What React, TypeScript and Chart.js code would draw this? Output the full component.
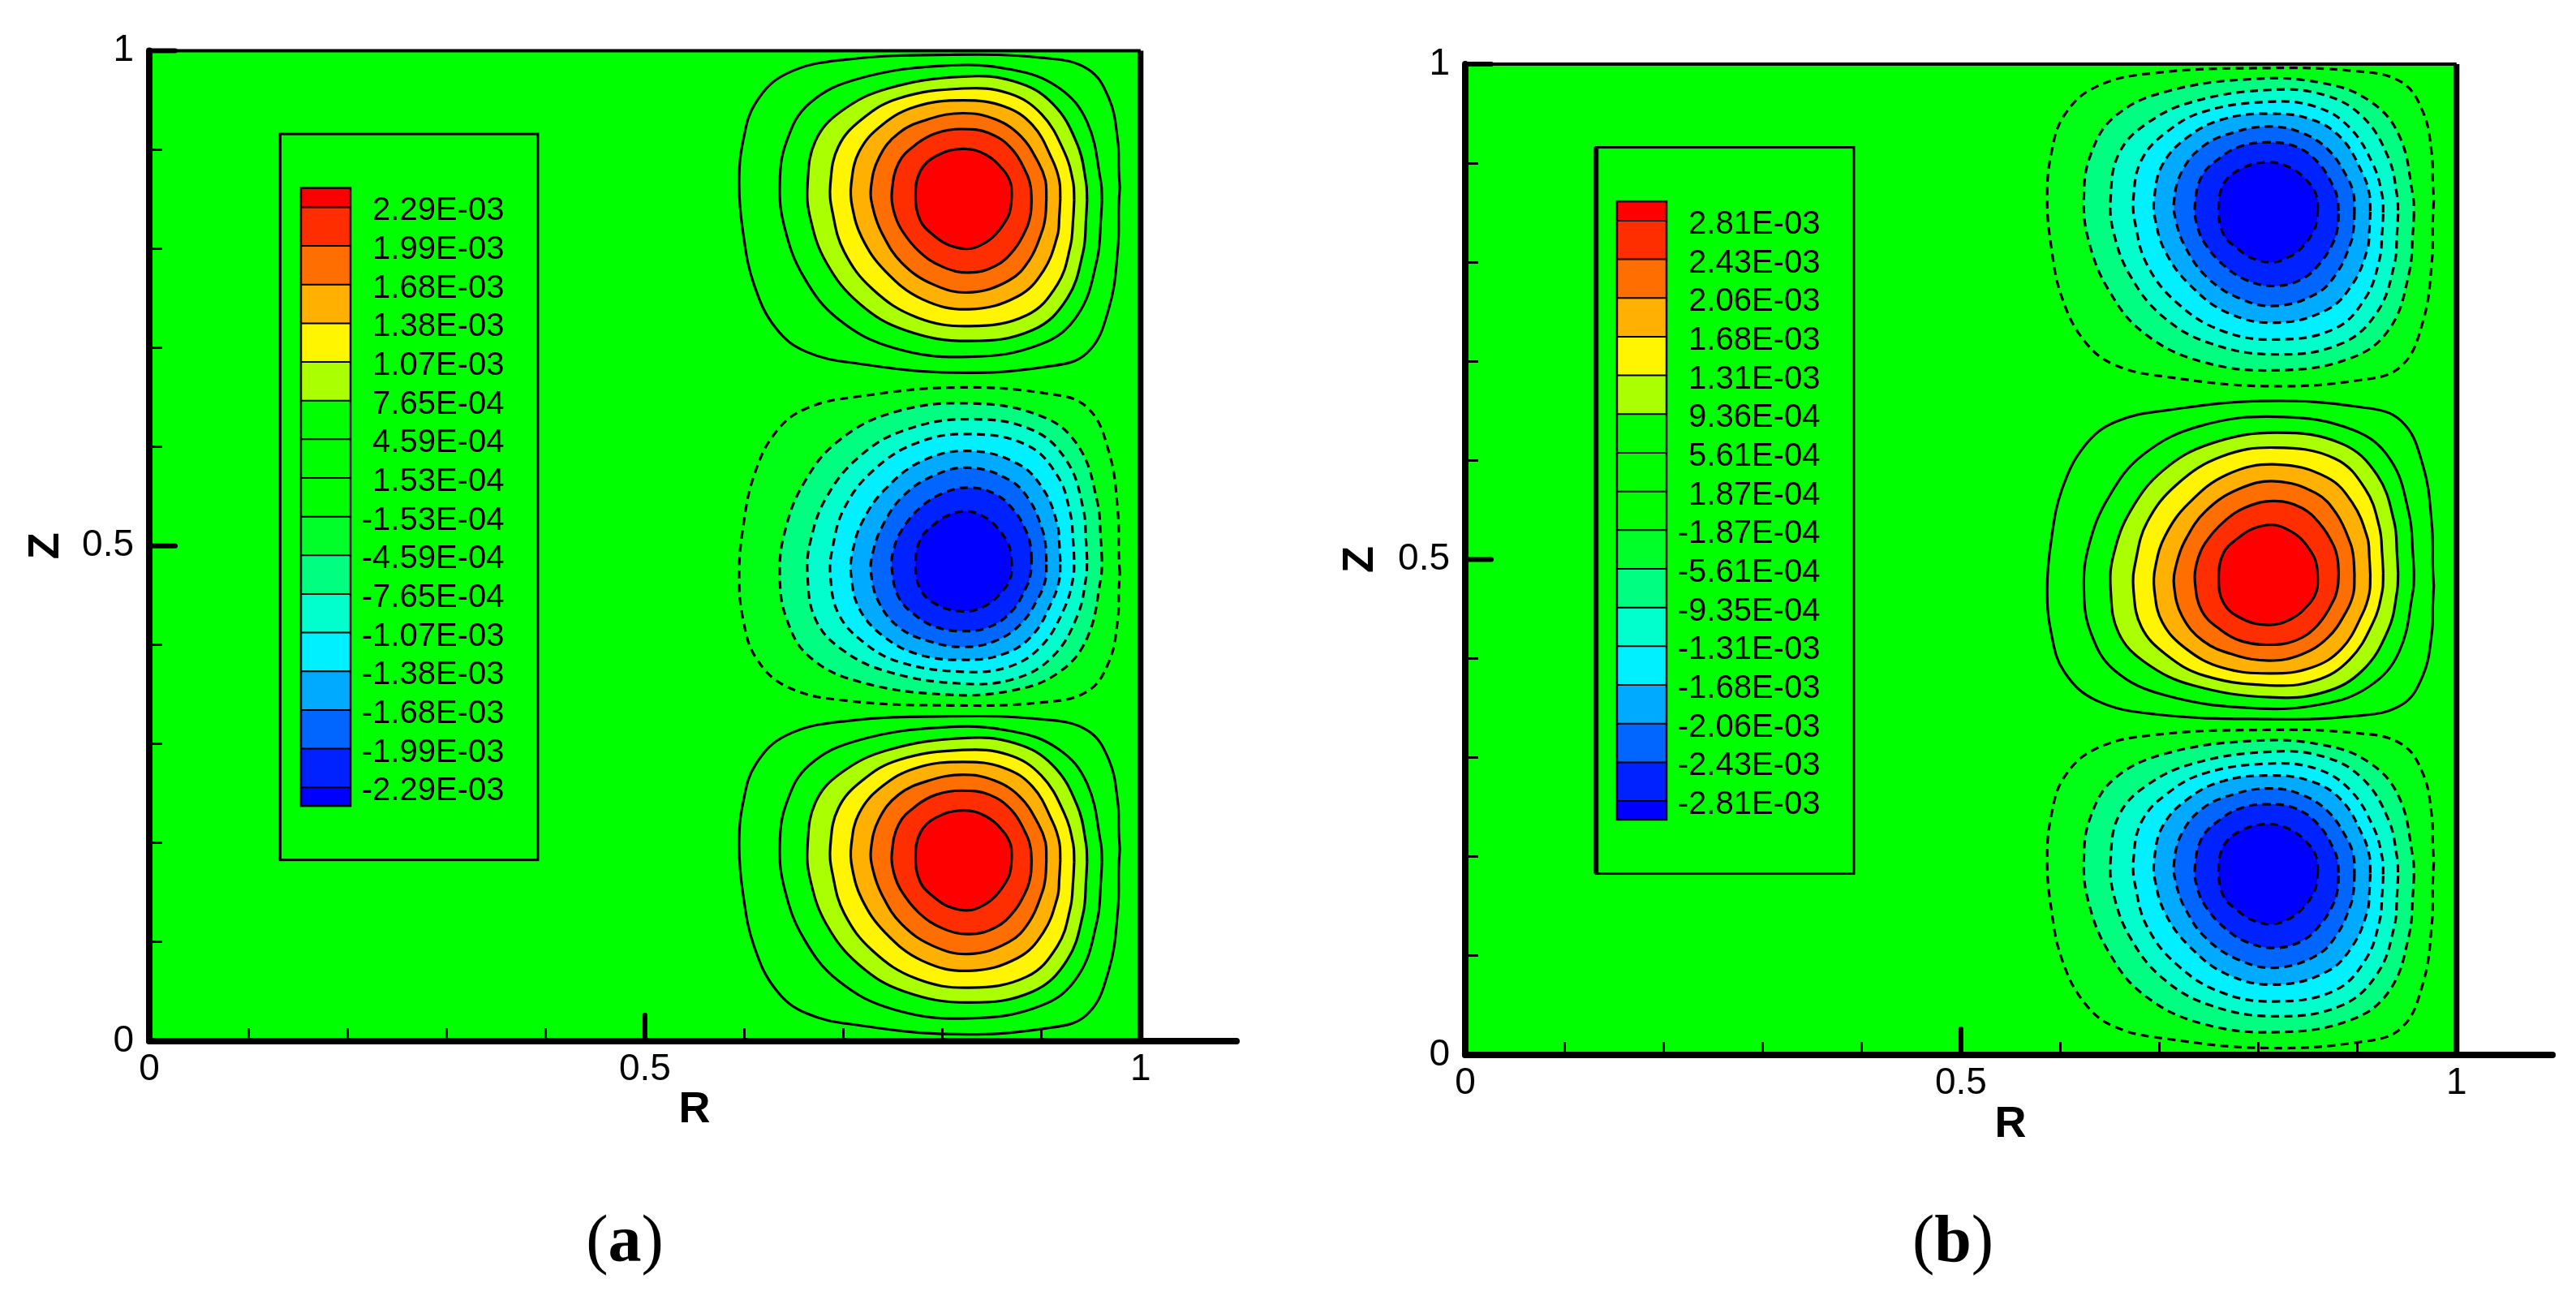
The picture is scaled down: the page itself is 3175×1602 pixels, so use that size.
import React, { useEffect, useRef } from 'react';
import { Chart, registerables } from 'chart.js';

Chart.register(...registerables);

// contour rings, outermost first; same ring order in every list
const ringRA = [
  [0.979, 0.978, 0.977, 0.968, 0.946, 0.905, 0.812, 0.716, 0.663, 0.632, 0.610, 0.599, 0.595, 0.599, 0.612, 0.643, 0.701, 0.809, 0.900, 0.946, 0.968, 0.977, 0.978],
  [0.961, 0.960, 0.956, 0.937, 0.900, 0.827, 0.751, 0.695, 0.660, 0.641, 0.636, 0.643, 0.666, 0.716, 0.803, 0.870, 0.917, 0.946, 0.960],
  [0.946, 0.945, 0.942, 0.926, 0.891, 0.827, 0.762, 0.716, 0.683, 0.667, 0.664, 0.672, 0.698, 0.745, 0.821, 0.873, 0.911, 0.936, 0.945],
  [0.933, 0.932, 0.929, 0.916, 0.885, 0.827, 0.774, 0.730, 0.701, 0.689, 0.687, 0.695, 0.719, 0.756, 0.821, 0.867, 0.900, 0.923, 0.932],
  [0.919, 0.918, 0.916, 0.902, 0.876, 0.827, 0.780, 0.742, 0.719, 0.709, 0.708, 0.716, 0.739, 0.774, 0.821, 0.862, 0.891, 0.911, 0.918],
  [0.905, 0.904, 0.901, 0.888, 0.867, 0.827, 0.791, 0.759, 0.739, 0.730, 0.728, 0.736, 0.756, 0.786, 0.821, 0.853, 0.879, 0.897, 0.904],
  [0.890, 0.889, 0.885, 0.873, 0.854, 0.827, 0.800, 0.777, 0.759, 0.751, 0.749, 0.756, 0.774, 0.794, 0.819, 0.847, 0.870, 0.885, 0.889],
  [0.870, 0.869, 0.866, 0.854, 0.841, 0.825, 0.806, 0.792, 0.778, 0.773, 0.778, 0.794, 0.821, 0.844, 0.862, 0.869],
];

const ringRB = [
  [0.977, 0.976, 0.975, 0.966, 0.944, 0.902, 0.807, 0.710, 0.656, 0.625, 0.602, 0.591, 0.587, 0.591, 0.604, 0.636, 0.695, 0.804, 0.897, 0.944, 0.966, 0.975, 0.976],
  [0.957, 0.956, 0.952, 0.933, 0.895, 0.820, 0.742, 0.684, 0.649, 0.629, 0.624, 0.631, 0.655, 0.706, 0.795, 0.864, 0.912, 0.942, 0.956],
  [0.941, 0.940, 0.937, 0.920, 0.884, 0.819, 0.752, 0.704, 0.671, 0.654, 0.651, 0.659, 0.686, 0.734, 0.812, 0.866, 0.905, 0.931, 0.940],
  [0.926, 0.925, 0.922, 0.908, 0.877, 0.817, 0.763, 0.718, 0.688, 0.676, 0.674, 0.682, 0.707, 0.745, 0.811, 0.858, 0.892, 0.916, 0.925],
  [0.913, 0.912, 0.910, 0.895, 0.869, 0.818, 0.769, 0.730, 0.706, 0.696, 0.695, 0.703, 0.727, 0.763, 0.812, 0.854, 0.884, 0.905, 0.912],
  [0.897, 0.896, 0.893, 0.879, 0.858, 0.817, 0.780, 0.747, 0.726, 0.717, 0.715, 0.723, 0.744, 0.775, 0.811, 0.843, 0.870, 0.889, 0.896],
  [0.881, 0.880, 0.876, 0.863, 0.844, 0.816, 0.788, 0.765, 0.746, 0.738, 0.736, 0.743, 0.762, 0.782, 0.808, 0.837, 0.860, 0.876, 0.880],
  [0.860, 0.859, 0.856, 0.844, 0.830, 0.814, 0.794, 0.780, 0.765, 0.760, 0.765, 0.782, 0.809, 0.833, 0.852, 0.859],
];

const ringZTop = [
  [0.862, 0.844, 0.800, 0.740, 0.695, 0.681, 0.675, 0.684, 0.696, 0.720, 0.764, 0.816, 0.865, 0.909, 0.948, 0.977, 0.991, 0.996, 0.993, 0.982, 0.952, 0.909, 0.880],
  [0.849, 0.831, 0.789, 0.734, 0.704, 0.691, 0.700, 0.729, 0.772, 0.821, 0.865, 0.909, 0.947, 0.972, 0.985, 0.981, 0.963, 0.928, 0.867],
  [0.849, 0.831, 0.797, 0.750, 0.718, 0.707, 0.718, 0.745, 0.786, 0.830, 0.865, 0.909, 0.939, 0.962, 0.974, 0.969, 0.947, 0.906, 0.867],
  [0.849, 0.831, 0.802, 0.764, 0.733, 0.722, 0.731, 0.759, 0.797, 0.838, 0.865, 0.903, 0.931, 0.952, 0.962, 0.957, 0.936, 0.898, 0.867],
  [0.851, 0.833, 0.813, 0.778, 0.752, 0.739, 0.749, 0.778, 0.811, 0.843, 0.865, 0.898, 0.925, 0.944, 0.950, 0.944, 0.925, 0.890, 0.869],
  [0.851, 0.833, 0.819, 0.789, 0.768, 0.756, 0.764, 0.786, 0.816, 0.841, 0.862, 0.892, 0.917, 0.931, 0.937, 0.931, 0.914, 0.887, 0.869],
  [0.849, 0.835, 0.821, 0.800, 0.783, 0.776, 0.782, 0.797, 0.819, 0.838, 0.857, 0.887, 0.906, 0.917, 0.921, 0.917, 0.901, 0.876, 0.863],
  [0.854, 0.842, 0.832, 0.815, 0.805, 0.800, 0.804, 0.813, 0.828, 0.854, 0.879, 0.894, 0.901, 0.895, 0.879, 0.866],
];

const ringZMid = [
  [0.473, 0.491, 0.535, 0.595, 0.640, 0.654, 0.660, 0.651, 0.639, 0.615, 0.571, 0.519, 0.470, 0.426, 0.387, 0.358, 0.344, 0.339, 0.342, 0.353, 0.383, 0.426, 0.455],
  [0.486, 0.504, 0.546, 0.601, 0.631, 0.644, 0.635, 0.606, 0.563, 0.514, 0.470, 0.426, 0.388, 0.363, 0.350, 0.354, 0.372, 0.407, 0.468],
  [0.486, 0.504, 0.538, 0.585, 0.617, 0.628, 0.617, 0.590, 0.549, 0.505, 0.470, 0.426, 0.396, 0.373, 0.361, 0.366, 0.388, 0.429, 0.468],
  [0.486, 0.504, 0.533, 0.571, 0.602, 0.613, 0.604, 0.576, 0.538, 0.497, 0.470, 0.432, 0.404, 0.383, 0.373, 0.378, 0.399, 0.437, 0.468],
  [0.484, 0.502, 0.522, 0.557, 0.583, 0.596, 0.586, 0.557, 0.524, 0.492, 0.470, 0.437, 0.410, 0.391, 0.385, 0.391, 0.410, 0.445, 0.466],
  [0.484, 0.502, 0.516, 0.546, 0.567, 0.579, 0.571, 0.549, 0.519, 0.494, 0.473, 0.443, 0.418, 0.404, 0.398, 0.404, 0.421, 0.448, 0.466],
  [0.486, 0.500, 0.514, 0.535, 0.552, 0.559, 0.553, 0.538, 0.516, 0.497, 0.478, 0.448, 0.429, 0.418, 0.414, 0.418, 0.434, 0.459, 0.472],
  [0.481, 0.493, 0.503, 0.520, 0.530, 0.535, 0.531, 0.522, 0.507, 0.481, 0.456, 0.441, 0.434, 0.440, 0.456, 0.469],
];

const ringZBot = [
  [0.194, 0.176, 0.132, 0.072, 0.027, 0.013, 0.007, 0.016, 0.028, 0.052, 0.096, 0.148, 0.197, 0.241, 0.280, 0.309, 0.323, 0.328, 0.325, 0.314, 0.284, 0.241, 0.212],
  [0.181, 0.163, 0.121, 0.066, 0.036, 0.023, 0.032, 0.061, 0.104, 0.153, 0.197, 0.241, 0.279, 0.304, 0.317, 0.313, 0.295, 0.260, 0.199],
  [0.181, 0.163, 0.129, 0.082, 0.050, 0.039, 0.050, 0.077, 0.118, 0.162, 0.197, 0.241, 0.271, 0.294, 0.306, 0.301, 0.279, 0.238, 0.199],
  [0.181, 0.163, 0.134, 0.096, 0.065, 0.054, 0.063, 0.091, 0.129, 0.170, 0.197, 0.235, 0.263, 0.284, 0.294, 0.289, 0.268, 0.230, 0.199],
  [0.183, 0.165, 0.145, 0.110, 0.084, 0.071, 0.081, 0.110, 0.143, 0.175, 0.197, 0.230, 0.257, 0.276, 0.282, 0.276, 0.257, 0.222, 0.201],
  [0.183, 0.165, 0.151, 0.121, 0.100, 0.088, 0.096, 0.118, 0.148, 0.173, 0.194, 0.224, 0.249, 0.263, 0.269, 0.263, 0.246, 0.219, 0.201],
  [0.181, 0.167, 0.153, 0.132, 0.115, 0.108, 0.114, 0.129, 0.151, 0.170, 0.189, 0.219, 0.238, 0.249, 0.253, 0.249, 0.233, 0.208, 0.195],
  [0.186, 0.174, 0.164, 0.147, 0.137, 0.132, 0.136, 0.145, 0.160, 0.186, 0.211, 0.226, 0.233, 0.227, 0.211, 0.198],
];

// fill inside each ring, outermost first
const positiveFills = ['#00ff00', '#00ff00', '#aaff00', '#fff500', '#ffb000', '#ff6e00', '#ff2e00', '#ff0000'];
const negativeFills = ['#00ff14', '#00ff80', '#00ffcc', '#00f0ff', '#00aaff', '#0066ff', '#0022ff', '#0000ff'];

const levelLabelsA = [
  '2.29E-03', '1.99E-03', '1.68E-03', '1.38E-03', '1.07E-03', '7.65E-04', '4.59E-04', '1.53E-04',
  '-1.53E-04', '-4.59E-04', '-7.65E-04', '-1.07E-03', '-1.38E-03', '-1.68E-03', '-1.99E-03', '-2.29E-03',
];
const levelLabelsB = [
  '2.81E-03', '2.43E-03', '2.06E-03', '1.68E-03', '1.31E-03', '9.36E-04', '5.61E-04', '1.87E-04',
  '-1.87E-04', '-5.61E-04', '-9.35E-04', '-1.31E-03', '-1.68E-03', '-2.06E-03', '-2.43E-03', '-2.81E-03',
];
const bandColors = [
  '#ff0000', '#ff2e00', '#ff6e00', '#ffb000', '#fff500', '#aaff00', '#00ff00', '#00ff00', '#00ff00',
  '#00ff28', '#00ff80', '#00ffcc', '#00f0ff', '#00aaff', '#0066ff', '#0022ff', '#0000ff',
];

const tickValues = [0, 0.1, 0.2, 0.3, 0.4, 0.5, 0.6, 0.7, 0.8, 0.9, 1];
const majorTicks = [0, 0.5, 1];
const fieldR = [0, 1, 1, 0, 0];
const fieldZ = [0, 0, 1, 1, 0];

// legend layout in axis units, both panels share it
const legendBox = { left: 0.132, right: 0.392, top: 0.916, bottom: 0.183 };
const legendBar = { left: 0.153, right: 0.203, top: 0.8615, bottom: 0.2375 };
const legendFirstLevel = 0.842;
const legendLastLevel = 0.2563;
const legendTextRight = 0.358;

const fontFamily = '"Liberation Sans", Arial, sans-serif';

function ringDatasets(rs: number[][], zs: number[][], fills: string[], dashed: boolean) {
  return rs.map((ring, i) => {
    const data = ring.map((r, k) => ({ x: r, y: zs[i][k] }));
    data.push(data[0]);
    return {
      data,
      order: 100 - i,
      showLine: true,
      pointRadius: 0,
      tension: 0.4,
      fill: 'shape',
      backgroundColor: fills[i],
      borderColor: '#000000',
      borderWidth: 3.2,
      borderDash: dashed ? [10, 6.5] : [],
    };
  });
}

function framePlugin(levelLabels: string[], boxLeftWidth: number) {
  return {
    id: 'frame',
    afterDraw(chart: any) {
      const { ctx } = chart;
      const x = chart.scales.x;
      const y = chart.scales.y;
      const px = (v: number) => x.getPixelForValue(v);
      const py = (v: number) => y.getPixelForValue(v);
      const line = (x1: number, y1: number, x2: number, y2: number, w: number, cap = 'butt') => {
        ctx.lineWidth = w;
        ctx.lineCap = cap;
        ctx.beginPath();
        ctx.moveTo(x1, y1);
        ctx.lineTo(x2, y2);
        ctx.stroke();
      };
      ctx.save();
      ctx.strokeStyle = '#000000';

      // legend
      const barTop = py(legendBar.top);
      const barBottom = py(legendBar.bottom);
      const barLeft = px(legendBar.left);
      const barRight = px(legendBar.right);
      const levelY = (i: number) =>
        py(legendFirstLevel + ((legendLastLevel - legendFirstLevel) * i) / (levelLabels.length - 1));
      bandColors.forEach((color, i) => {
        const top = i === 0 ? barTop : levelY(i - 1);
        const bottom = i === bandColors.length - 1 ? barBottom : levelY(i);
        ctx.fillStyle = color;
        ctx.fillRect(barLeft, top, barRight - barLeft, bottom - top);
      });
      ctx.fillStyle = '#000000';
      ctx.font = `40px ${fontFamily}`;
      ctx.textAlign = 'right';
      ctx.textBaseline = 'middle';
      levelLabels.forEach((label, i) => {
        line(barLeft, levelY(i), barRight, levelY(i), 2);
        ctx.fillText(label, px(legendTextRight), levelY(i) + 5);
      });
      ctx.lineWidth = 2.5;
      ctx.strokeRect(barLeft, barTop, barRight - barLeft, barBottom - barTop);
      ctx.lineWidth = 3;
      ctx.strokeRect(px(legendBox.left), py(legendBox.top), px(legendBox.right) - px(legendBox.left), py(legendBox.bottom) - py(legendBox.top));
      line(px(legendBox.left), py(legendBox.top), px(legendBox.left), py(legendBox.bottom), boxLeftWidth);

      // axes and frame
      line(px(0), py(1), px(1), py(1), 4);
      line(px(1), py(1), px(1), py(0), 7);
      line(px(0), py(0), px(0), py(1), 8, 'round');
      line(px(0), py(0), px(1.1) - 4, py(0), 8, 'round');
      majorTicks.forEach((v) => {
        line(px(0), py(v), px(0) + 32, py(v), 6, 'round');
        if (v > 0 && v < 1) line(px(v), py(0), px(v), py(0) - 32, 6, 'round');
      });
      ctx.restore();
    },
  };
}

type PanelProps = {
  left: number;
  width: number;
  plotLeft: number;
  plotTop: number;
  plotBottomGap: number;
  rightPad: number;
  rs: number[][];
  topDashed: boolean;
  levelLabels: string[];
  boxLeftWidth: number;
  xTitlePad: number;
  yTitlePad: number;
};

function ContourPanel(props: PanelProps) {
  const canvasRef = useRef<HTMLCanvasElement>(null);

  useEffect(() => {
    if (!canvasRef.current) return;
    const { rs, topDashed } = props;
    const outerFills = topDashed ? negativeFills : positiveFills;
    const midFills = topDashed ? positiveFills : negativeFills;
    const tickLabel = (v: number) => (majorTicks.includes(v) ? String(v) : '');
    const tickFont = { family: fontFamily, size: 46 };
    const titleFont = { family: fontFamily, size: 54, weight: 'bold' as const };
    const grid = { drawOnChartArea: false, drawTicks: true, tickLength: -16, tickWidth: 3, tickColor: '#000000', z: 1 };

    const chart = new Chart(canvasRef.current, {
      type: 'scatter',
      data: {
        datasets: [
          {
            data: fieldR.map((r, i) => ({ x: r, y: fieldZ[i] })),
            order: 200,
            showLine: true,
            pointRadius: 0,
            fill: 'shape',
            backgroundColor: '#00ff00',
            borderWidth: 0,
          },
          ...ringDatasets(rs, ringZTop, outerFills, topDashed),
          ...ringDatasets(rs, ringZMid, midFills, !topDashed),
          ...ringDatasets(rs, ringZBot, outerFills, topDashed),
        ] as any,
      },
      options: {
        animation: false,
        responsive: false,
        devicePixelRatio: 1,
        layout: { padding: { top: props.plotTop, right: props.rightPad, left: 0, bottom: 0 } },
        plugins: { legend: { display: false }, tooltip: { enabled: false } },
        scales: {
          x: {
            type: 'linear',
            min: 0,
            max: 1.1,
            afterBuildTicks: (s: any) => { s.ticks = tickValues.map((value) => ({ value })); },
            afterFit: (s: any) => { s.height = props.plotBottomGap; },
            border: { display: false },
            grid,
            ticks: { color: '#000000', font: tickFont, padding: 24, maxRotation: 0, autoSkip: false, callback: (v: any) => tickLabel(v) },
            title: { display: true, text: 'R', color: '#000000', font: titleFont, padding: { top: 0, bottom: props.xTitlePad } },
          },
          y: {
            type: 'linear',
            min: 0,
            max: 1,
            afterBuildTicks: (s: any) => { s.ticks = tickValues.map((value) => ({ value })); },
            afterFit: (s: any) => { s.width = props.plotLeft; },
            border: { display: false },
            grid,
            ticks: { color: '#000000', font: tickFont, padding: 35, autoSkip: false, callback: (v: any) => tickLabel(v) },
            title: { display: true, text: 'Z', color: '#000000', font: titleFont, padding: { top: props.yTitlePad, bottom: 0 } },
          },
        },
      },
      plugins: [framePlugin(props.levelLabels, props.boxLeftWidth)],
    });

    return () => chart.destroy();
  }, []);

  return (
    <canvas
      ref={canvasRef}
      width={props.width}
      height={1602}
      style={{ position: 'absolute', left: props.left, top: 0, display: 'block' }}
    />
  );
}

const captionStyle: React.CSSProperties = {
  position: 'absolute',
  top: 1480,
  transform: 'translateX(-50%)',
  font: '82px "Liberation Serif", serif',
  color: '#000000',
  lineHeight: '94px',
  whiteSpace: 'nowrap',
};

export default function App() {
  return (
    <div style={{ position: 'absolute', left: 0, top: 0, width: 3175, height: 1602, overflow: 'hidden', background: '#ffffff' }}>
      <ContourPanel
        left={0} width={1587} plotLeft={184} plotTop={62} plotBottomGap={319} rightPad={59}
        rs={ringRA} topDashed={false} levelLabels={levelLabelsA} boxLeftWidth={3} xTitlePad={201} yTitlePad={25}
      />
      <ContourPanel
        left={1587} width={1588} plotLeft={219} plotTop={79} plotBottomGap={302} rightPad={25}
        rs={ringRB} topDashed={true} levelLabels={levelLabelsB} boxLeftWidth={6} xTitlePad={183} yTitlePad={58}
      />
      <div style={{ ...captionStyle, left: 770 }}>(<b>a</b>)</div>
      <div style={{ ...captionStyle, left: 2407 }}>(<b>b</b>)</div>
    </div>
  );
}
